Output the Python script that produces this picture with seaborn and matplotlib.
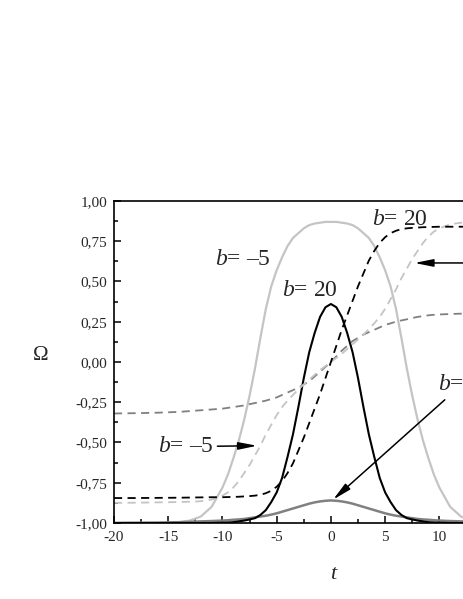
import matplotlib
matplotlib.use("Agg")
import matplotlib.pyplot as plt
from matplotlib.ticker import MultipleLocator, FuncFormatter
import seaborn as sns

# Values, on a shared time grid
t = [-20, -18, -16, -14, -13, -12, -11,
     -10, -9.5, -9, -8.5, -8, -7.5, -7, -6.5, -6, -5.5, -5, -4.5, -4, -3.5, -3, -2.5,
     -2, -1.5, -1, -0.5, 0, 0.5, 1, 1.5, 2, 2.5, 3, 3.5, 4, 4.5, 5, 5.5, 6, 6.5,
     7, 7.5, 8, 8.5, 9, 9.5, 10,
     11, 12, 13, 14, 16, 18, 20]

# light gray solid pulse (b = -5)
pulse_b_m5 = [-1.0, -1.0, -1.0, -0.995, -0.985, -0.96, -0.90,
              -0.78, -0.70, -0.60, -0.49, -0.36, -0.21, -0.04, 0.15, 0.33, 0.47, 0.57, 0.65,
              0.72, 0.77, 0.80, 0.83, 0.85, 0.86, 0.865, 0.87, 0.87, 0.87, 0.865, 0.86,
              0.85, 0.83, 0.80, 0.77, 0.72, 0.65, 0.57, 0.47, 0.33, 0.15, -0.04, -0.21,
              -0.36, -0.49, -0.60, -0.70, -0.78,
              -0.90, -0.96, -0.985, -0.995, -1.0, -1.0, -1.0]

# gray solid pulse (third case, its label is cut off)
pulse_b_other = [-1.0, -0.999, -0.998, -0.995, -0.993, -0.99, -0.988,
                 -0.985, -0.983, -0.98, -0.978, -0.975, -0.97, -0.965, -0.96, -0.955, -0.948,
                 -0.94, -0.93, -0.92, -0.91, -0.90, -0.89, -0.88, -0.872, -0.866, -0.862,
                 -0.86, -0.862, -0.866, -0.872, -0.88, -0.89, -0.90, -0.91, -0.92, -0.93,
                 -0.94, -0.948, -0.955, -0.96, -0.965, -0.97, -0.975, -0.978, -0.98, -0.983,
                 -0.985,
                 -0.988, -0.99, -0.993, -0.995, -0.998, -0.999, -1.0]

# black solid pulse (b = 20)
pulse_b_20 = [-1.0, -1.0, -1.0, -1.0, -1.0, -1.0, -1.0,
              -0.998, -0.997, -0.995, -0.99, -0.985, -0.978, -0.97, -0.95, -0.92, -0.87,
              -0.81, -0.72, -0.59, -0.45, -0.28, -0.10, 0.06, 0.18, 0.28, 0.34,
              0.36, 0.34, 0.28, 0.18, 0.06, -0.10, -0.28, -0.45, -0.59, -0.72,
              -0.81, -0.87, -0.92, -0.95, -0.97, -0.978, -0.985, -0.99, -0.995, -0.997,
              -0.998,
              -1.0, -1.0, -1.0, -1.0, -1.0, -1.0, -1.0]

# dashed detuning curves
det_b_20 = [-0.845, -0.845, -0.844, -0.843, -0.842, -0.841, -0.84,
            -0.84, -0.839, -0.838, -0.837, -0.835, -0.833, -0.83, -0.825, -0.815, -0.80,
            -0.775, -0.74, -0.69, -0.63, -0.55, -0.47, -0.38, -0.29, -0.20, -0.10,
            0.0, 0.10, 0.20, 0.29, 0.38, 0.47, 0.55, 0.63, 0.69, 0.74,
            0.775, 0.80, 0.815, 0.825, 0.83, 0.833, 0.835, 0.837, 0.838, 0.839,
            0.84,
            0.84, 0.84, 0.84, 0.84, 0.84, 0.84, 0.84]

det_b_m5 = [-0.875, -0.874, -0.872, -0.87, -0.868, -0.865, -0.855,
            -0.83, -0.81, -0.78, -0.74, -0.69, -0.64, -0.58, -0.52, -0.45, -0.39,
            -0.33, -0.28, -0.24, -0.205, -0.17, -0.14, -0.11, -0.08, -0.05, -0.025,
            0.0, 0.025, 0.05, 0.08, 0.11, 0.14, 0.17, 0.205, 0.24, 0.28,
            0.33, 0.39, 0.45, 0.52, 0.58, 0.64, 0.69, 0.74, 0.78, 0.81,
            0.83,
            0.855, 0.865, 0.868, 0.87, 0.872, 0.874, 0.875]

det_b_other = [-0.32, -0.318, -0.315, -0.31, -0.305, -0.30, -0.295,
               -0.29, -0.285, -0.28, -0.275, -0.27, -0.262, -0.255, -0.248, -0.24, -0.23,
               -0.22, -0.205, -0.19, -0.175, -0.16, -0.14, -0.12, -0.09, -0.06, -0.03,
               0.0, 0.035, 0.07, 0.10, 0.13, 0.15, 0.17, 0.185, 0.20, 0.215,
               0.23, 0.24, 0.25, 0.258, 0.265, 0.273, 0.28, 0.285, 0.29, 0.293,
               0.295,
               0.298, 0.30, 0.302, 0.305, 0.307, 0.309, 0.31]

LIGHT = "#c4c4c4"
MID = "#808080"
DASH = (0, (4.5, 3))

sns.set_style("ticks")
plt.rcParams["font.family"] = ["Liberation Serif", "DejaVu Serif"]
plt.rcParams["mathtext.fontset"] = "custom"
plt.rcParams["mathtext.it"] = "Liberation Serif:italic"
plt.rcParams["mathtext.rm"] = "Liberation Serif"

fig = plt.figure(figsize=(4.63, 5.99), dpi=100)
# the axes run past the right edge, like the cropped original
ax = fig.add_axes([0.2462, 0.1269, 0.937, 0.5376])

# pulses
sns.lineplot(x=t, y=pulse_b_m5, ax=ax, color=LIGHT, lw=1.6)
sns.lineplot(x=t, y=pulse_b_other, ax=ax, color=MID, lw=1.8)
sns.lineplot(x=t, y=pulse_b_20, ax=ax, color="black", lw=1.5)

# detunings
sns.lineplot(x=t, y=det_b_other, ax=ax, color=MID, lw=1.3, linestyle=DASH)
sns.lineplot(x=t, y=det_b_m5, ax=ax, color=LIGHT, lw=1.3, linestyle=DASH)
sns.lineplot(x=t, y=det_b_20, ax=ax, color="black", lw=1.3, linestyle=DASH)

ax.set_xlim(-20, 20)
ax.set_ylim(-1, 1)
ax.xaxis.set_major_locator(MultipleLocator(5))
ax.xaxis.set_minor_locator(MultipleLocator(2.5))
ax.yaxis.set_major_locator(MultipleLocator(0.25))
ax.yaxis.set_minor_locator(MultipleLocator(0.125))
# labels past the picture edge would be cut anyway
ax.xaxis.set_major_formatter(FuncFormatter(lambda v, p: f"{v:.0f}" if v < 12 else ""))
ax.yaxis.set_major_formatter(FuncFormatter(lambda v, p: f"{v:.2f}".replace(".", ",")))
ax.tick_params(which="both", direction="in", width=1.1, labelsize=11, color="black")
ax.tick_params(which="major", length=5)
ax.tick_params(which="minor", length=3)
ax.tick_params(axis="y", pad=5)
ax.tick_params(axis="x", pad=6)
for s in ax.spines.values():
    s.set_linewidth(1.2)
    s.set_color("black")

ax.set_xlabel("$t$", fontsize=16)
ax.set_ylabel("Ω", fontsize=15, rotation=0)
ax.xaxis.set_label_coords(0.509, -0.13)
ax.yaxis.set_label_coords(-0.17, 0.49)

# curve labels and arrows (long, narrow heads)
lab = dict(fontsize=17, ha="left", va="baseline")
arrow = dict(arrowstyle="-|>,head_length=0.8,head_width=0.16", color="black", lw=1.1,
             mutation_scale=14, shrinkA=0, shrinkB=0)
ax.text(-10.7, 0.60, "$b$= \u20135", **lab)
ax.text(-4.5, 0.41, "$b$= 20", **lab)
ax.text(3.8, 0.85, "$b$= 20", **lab)
ax.annotate("$b$= \u20135", xy=(-6.8, -0.52), xytext=(-15.9, -0.56), arrowprops=arrow, **lab)
ax.text(9.9, -0.175, "$b$=", **lab)
ax.annotate("", xy=(0.2, -0.855), xytext=(10.5, -0.235), arrowprops=arrow)
ax.annotate("", xy=(7.7, 0.615), xytext=(14.0, 0.615), arrowprops=arrow)

fig.savefig("out.png", dpi=100)
